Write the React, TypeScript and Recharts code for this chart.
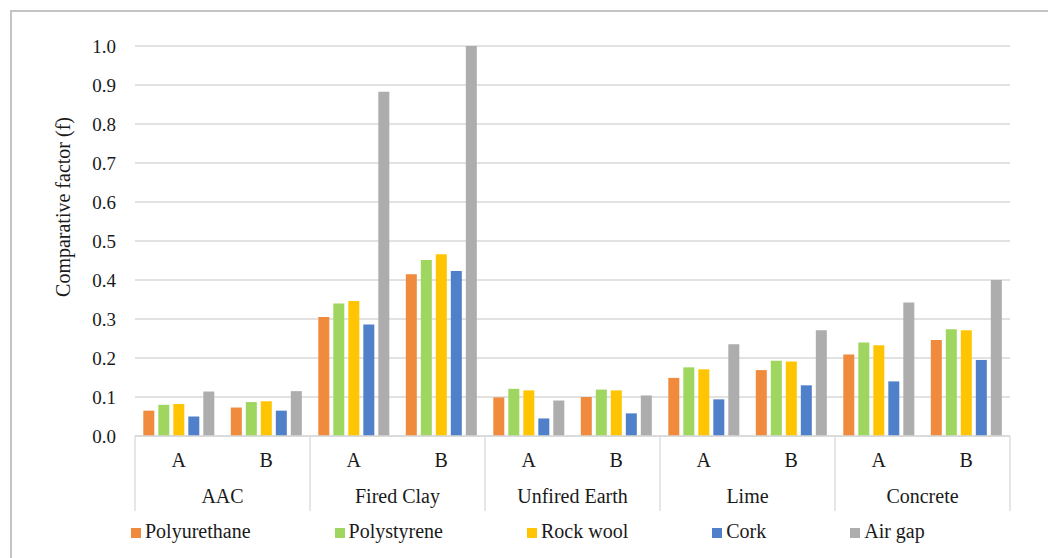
import React from 'react';
import { BarChart, Bar, XAxis, YAxis, CartesianGrid, Legend, Label } from 'recharts';

const groups = ['AAC', 'Fired Clay', 'Unfired Earth', 'Lime', 'Concrete'];
const variants = ['A', 'B'];
const seriesNames = ['Polyurethane', 'Polystyrene', 'Rock wool', 'Cork', 'Air gap'];
const seriesColors = ['#F08A3C', '#9FD65F', '#FFC502', '#5080CA', '#ADADAD'];

// order: AAC A, AAC B, Fired Clay A, Fired Clay B, Unfired Earth A, Unfired Earth B, Lime A, Lime B, Concrete A, Concrete B
const polyurethane = [0.065, 0.073, 0.305, 0.415, 0.099, 0.100, 0.149, 0.169, 0.209, 0.246];
const polystyrene = [0.080, 0.087, 0.340, 0.451, 0.121, 0.119, 0.176, 0.193, 0.240, 0.274];
const rockWool = [0.082, 0.089, 0.346, 0.466, 0.117, 0.117, 0.171, 0.191, 0.233, 0.271];
const cork = [0.050, 0.065, 0.286, 0.423, 0.045, 0.058, 0.094, 0.130, 0.140, 0.195];
const airGap = [0.114, 0.115, 0.883, 1.0, 0.091, 0.104, 0.235, 0.271, 0.342, 0.400];

const yTicks = [0, 0.1, 0.2, 0.3, 0.4, 0.5, 0.6, 0.7, 0.8, 0.9, 1.0];
const yLabel = 'Comparative factor (f)';

const seriesValues = [polyurethane, polystyrene, rockWool, cork, airGap];
const keys = ['s0', 's1', 's2', 's3', 's4'];

const data = groups.flatMap((g, gi) =>
  variants.map((v, vi) => {
    const idx = gi * variants.length + vi;
    const row: any = { group: g, sub: v };
    keys.forEach((k, si) => {
      row[k] = seriesValues[si][idx];
    });
    return row;
  })
);

const FONT = '"Liberation Serif", "Times New Roman", serif';
const W = 1048;
const H = 558;
const MARGIN = { top: 46, right: 38, left: 0, bottom: 15 };
const YAXIS_W = 135;
const PLOT_W = W - MARGIN.left - MARGIN.right - YAXIS_W;
const HALF_BAND = PLOT_W / data.length / 2;

const CatTick = (props: any) => {
  const { x, y, payload, index } = props;
  const row = data[index];
  const isFirst = index % variants.length === 0;
  const isLast = index === data.length - 1;
  return (
    <g>
      <text x={x} y={y + 31} textAnchor="middle" fontFamily={FONT} fontSize={20} fill="#1a1a1a">
        {payload.value}
      </text>
      {isFirst && (
        <>
          <line x1={x - HALF_BAND} x2={x - HALF_BAND} y1={y} y2={y + 75} stroke="#D9D9D9" strokeWidth={1.3} />
          <text x={x + HALF_BAND} y={y + 67} textAnchor="middle" fontFamily={FONT} fontSize={20} fill="#1a1a1a">
            {row ? row.group : ''}
          </text>
        </>
      )}
      {isLast && (
        <line x1={x + HALF_BAND} x2={x + HALF_BAND} y1={y} y2={y + 75} stroke="#D9D9D9" strokeWidth={1.3} />
      )}
    </g>
  );
};

const LegendContent = () => (
  <div
    style={{
      height: 24,
      lineHeight: '24px',
      whiteSpace: 'nowrap',
      paddingLeft: 131,
      fontFamily: FONT,
      fontSize: 20,
      color: '#1a1a1a',
      textAlign: 'left',
    }}
  >
    {seriesNames.map((n, i) => (
      <span key={n} style={{ marginRight: 84 }}>
        <span
          style={{
            display: 'inline-block',
            width: 10,
            height: 10,
            background: seriesColors[i],
            marginRight: 4,
          }}
        />
        {n}
      </span>
    ))}
  </div>
);

export default function App() {
  return (
    <div
      style={{
        position: 'absolute',
        left: 0,
        top: 0,
        width: W,
        height: H,
        overflow: 'hidden',
        background: '#fff',
      }}
    >
      <div
        style={{
          position: 'absolute',
          left: 10,
          top: 10,
          width: 1100,
          height: 600,
          borderTop: '2px solid #C4C4C4',
          borderLeft: '2px solid #C4C4C4',
        }}
      />
      <div style={{ position: 'absolute', left: 0, top: 0 }}>
        <BarChart width={W} height={H} data={data} margin={MARGIN} barCategoryGap="9.5%" barGap={4}>
          <CartesianGrid vertical={false} stroke="#D9D9D9" strokeWidth={1.4} />
          <XAxis
            dataKey="sub"
            height={H - MARGIN.top - MARGIN.bottom - 24 - 390}
            tickLine={false}
            tickSize={0}
            tickMargin={0}
            axisLine={{ stroke: '#D9D9D9', strokeWidth: 1.4 }}
            tick={<CatTick />}
            interval={0}
          />
          <YAxis
            width={YAXIS_W}
            domain={[0, 1]}
            ticks={yTicks}
            interval={0}
            tickFormatter={(v: number) => v.toFixed(1)}
            axisLine={false}
            tickLine={false}
            tickSize={0}
            tickMargin={19}
            tick={{ fontFamily: FONT, fontSize: 19, fill: '#1a1a1a' }}
          >
            <Label
              content={(p: any) => {
                const vb = p.viewBox || { x: 0, y: MARGIN.top };
                const cx = vb.x + 63;
                const cy = vb.y + 161;
                return (
                  <text
                    x={cx}
                    y={cy}
                    transform={`rotate(-90 ${cx} ${cy})`}
                    textAnchor="middle"
                    dominantBaseline="central"
                    fontFamily={FONT}
                    fontSize={20}
                    fill="#1a1a1a"
                  >
                    {yLabel}
                  </text>
                );
              }}
            />
          </YAxis>
          <Legend verticalAlign="bottom" wrapperStyle={{ left: 0 }} content={<LegendContent />} />
          {keys.map((k, i) => (
            <Bar key={k} dataKey={k} name={seriesNames[i]} fill={seriesColors[i]} isAnimationActive={false} />
          ))}
        </BarChart>
      </div>
    </div>
  );
}
